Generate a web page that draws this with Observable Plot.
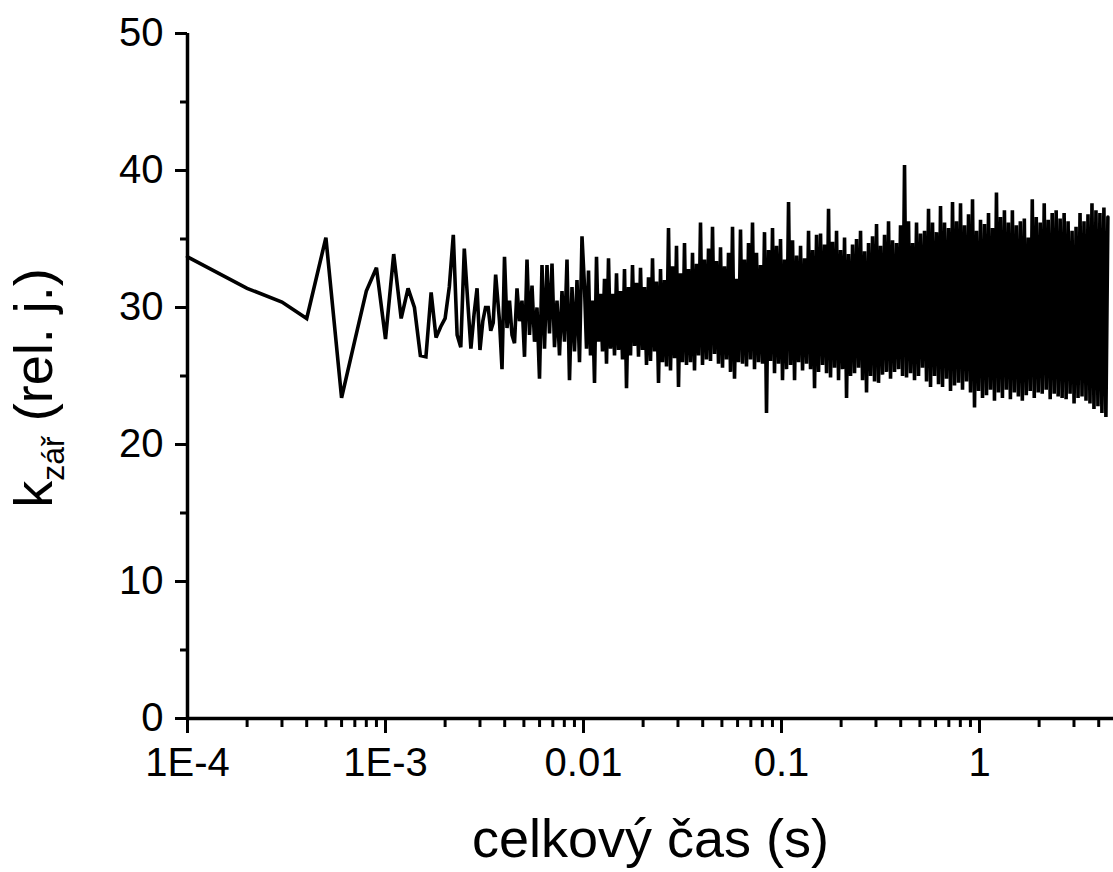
<!DOCTYPE html>
<html>
<head>
<meta charset="utf-8">
<script src="https://cdn.jsdelivr.net/npm/d3@7"></script>
<script src="https://cdn.jsdelivr.net/npm/@observablehq/plot@0.6"></script>
<style>
  html, body { margin: 0; padding: 0; background: #fff; }
</style>
</head>
<body>
<script>
// ---- data ----
// first samples, uniform 1e-4 s time step
const earlyStep = 1e-4;
const earlyK = [33.7, 31.4, 30.4, 29.2, 35.1, 23.4, 27.6, 31.2, 32.9, 27.7,
  33.9, 29.2, 31.4, 30.0, 26.5, 26.4, 31.1, 27.8, 28.6, 29.2,
  31.5, 35.3, 28.0, 27.1, 34.3, 30.5, 27.0, 29.5, 31.4, 26.9,
  29.0, 30.0, 30.0, 28.3, 28.9, 32.4];

// dense part, read as successive peaks / troughs in each time span
const segStart = [3.765e-3, 0.010117, 0.1036, 1.06];
const segEnd   = [9.826e-3, 0.10117, 1.0355, 4.45];
const seg1K = [29.0, 25.5, 33.7, 28.5, 30.5, 28.0, 27.4, 31.4, 29.0, 30.5, 26.4, 33.5, 28.0, 31.6, 27.5, 30.0, 24.8,
  33.1, 27.0, 33.1, 28.1, 33.2, 27.1, 30.5, 26.5, 31.2, 27.5, 33.5, 24.7, 31.5, 26.8, 32.0, 26.0, 35.2];
const seg2K = [31.5,27.0, 32.7,26.5, 30.5,24.5, 33.7,27.5, 31.0,26.8, 32.1,25.9, 33.6,27.0, 31.0,26.5, 32.5,26.9, 31.2,26.2,
  32.8,24.1, 31.5,26.5, 33.1,27.2, 31.8,26.4, 32.9,26.9, 31.5,25.8, 32.2,26.1, 33.6,26.8, 31.9,24.5, 32.8,26.0,
  32.0,25.7, 35.8,25.4, 33.0,26.3, 34.5,24.2, 32.5,26.0, 34.7,25.8, 32.8,26.0, 34.0,25.4, 33.2,26.5, 36.2,25.8,
  33.5,26.2, 34.3,26.1, 35.9,26.6, 33.4,25.9, 34.4,25.6, 33.0,26.2, 34.0,25.3, 35.9,24.8, 32.1,26.0, 35.7,25.9,
  33.5,25.7, 34.7,26.2, 36.2,25.5, 34.0,26.0, 33.1,25.9, 35.5,22.3, 34.2,26.1, 35.8,25.2, 34.5,25.9, 35.0,24.7];
const seg3K = [33.5,25.5, 37.7,25.8, 34.9,24.7, 33.8,26.0, 34.5,25.4, 33.6,25.9, 35.6,25.5, 34.2,24.1, 35.3,25.3, 35.4,25.8,
  34.6,25.2, 37.2,24.9, 34.8,25.6, 35.6,24.7, 34.2,25.5, 35.1,23.4, 33.9,25.0, 34.6,25.2, 35.0,25.6, 35.6,24.7,
  34.1,23.8, 34.7,25.0, 35.2,24.6, 36.1,24.5, 34.5,25.1, 35.3,25.3, 36.3,24.8, 34.9,25.3, 34.7,25.5, 36.0,25.0,
  40.4,24.9, 36.3,25.2, 34.7,24.7, 36.2,25.0, 35.4,25.6, 35.6,24.6, 37.2,24.2, 36.2,25.0, 35.5,24.4, 37.4,24.2,
  36.2,24.8, 35.8,23.9, 37.7,24.3, 36.3,24.5, 37.6,24.0, 36.0,24.6, 36.8,23.8, 37.9,22.7, 35.6,23.9, 36.4,23.4];
const seg4K = [36.1,23.6, 36.9,24.0, 35.8,23.2, 38.4,23.8, 36.6,23.4, 37.1,24.0, 36.2,23.3, 37.1,23.8, 36.0,23.5, 36.3,23.2,
  36.5,23.6, 35.1,23.9, 37.9,23.4, 36.6,23.8, 36.2,23.7, 37.6,24.0, 36.4,23.3, 36.9,23.7, 37.1,23.5, 36.5,23.4,
  36.9,23.3, 36.3,23.7, 35.6,23.0, 35.9,23.4, 36.9,23.5, 36.3,23.2, 36.8,23.0, 37.6,22.6, 37.1,22.8, 36.9,22.3,
  37.3,22.0, 36.6];

// axes
const xMajor = [1e-4, 1e-3, 0.01, 0.1, 1];
const xMajorLabels = ["1E-4", "1E-3", "0.01", "0.1", "1"];
const yMajor = [0, 10, 20, 30, 40, 50];
const yMinor = [5, 15, 25, 35, 45];
const xLabel = "celkový čas (s)";
const yLabelMain = "k";
const yLabelSub = "zář";
const yLabelRest = " (rel. j.)";

// ---- build table ----
const data = [];
earlyK.forEach((v, i) => data.push({t: (i + 1) * earlyStep, k: v}));
[seg1K, seg2K, seg3K, seg4K].forEach((arr, s) => {
  const a = Math.log10(segStart[s]), b = Math.log10(segEnd[s]);
  arr.forEach((v, i) => data.push({t: Math.pow(10, a + (b - a) * i / (arr.length - 1)), k: v}));
});

const xMinor = [];
for (let e = -4; e <= 0; e++) for (let m = 2; m <= 9; m++) {
  const v = m * Math.pow(10, e);
  if (v < 4.75) xMinor.push(v);
}

const font = "'Liberation Sans', Arial, Helvetica, sans-serif";

const chart = Plot.plot({
  width: 1113,
  height: 872,
  marginLeft: 187,
  marginRight: 0,
  marginTop: 33,
  marginBottom: 154,
  style: {fontFamily: font, background: "#fff", color: "#000", overflow: "visible"},
  x: {type: "log", domain: [1e-4, 4.75]},
  y: {domain: [0, 50]},
  marks: [
    Plot.line(data, {x: "t", y: "k", stroke: "black", strokeWidth: 3.6, strokeLinejoin: "miter", strokeMiterlimit: 3}),
    Plot.ruleY([0], {stroke: "black", strokeWidth: 3.5}),
    Plot.ruleX([1e-4], {y1: 0, y2: 50, stroke: "black", strokeWidth: 3.5}),
    Plot.axisX(xMajor, {tickSize: 15, tickPadding: 14, strokeWidth: 3, fontSize: 40,
      tickFormat: (d) => xMajorLabels[xMajor.indexOf(d)], label: null}),
    Plot.axisX(xMinor, {tickSize: 9, strokeWidth: 3, tickFormat: () => "", label: null}),
    Plot.axisY(yMajor, {tickSize: 12, tickPadding: 12, strokeWidth: 3, fontSize: 40,
      tickFormat: (d) => String(d), label: null}),
    Plot.axisY(yMinor, {tickSize: 7, strokeWidth: 3, tickFormat: () => "", label: null}),
    Plot.text([xLabel], {frameAnchor: "bottom", dy: 121, fontSize: 54, fill: "black", lineAnchor: "middle"})
  ]
});

document.body.appendChild(chart);

// y axis title with subscript
const svg = d3.select(chart);
const yt = svg.append("text")
  .attr("transform", "translate(52,388) rotate(-90)")
  .attr("text-anchor", "middle")
  .attr("font-family", font)
  .attr("font-size", 54)
  .attr("fill", "black");
yt.append("tspan").text(yLabelMain);
yt.append("tspan").attr("font-size", 32).attr("dy", 12).text(yLabelSub);
yt.append("tspan").attr("dy", -12).text(yLabelRest);
</script>
</body>
</html>
